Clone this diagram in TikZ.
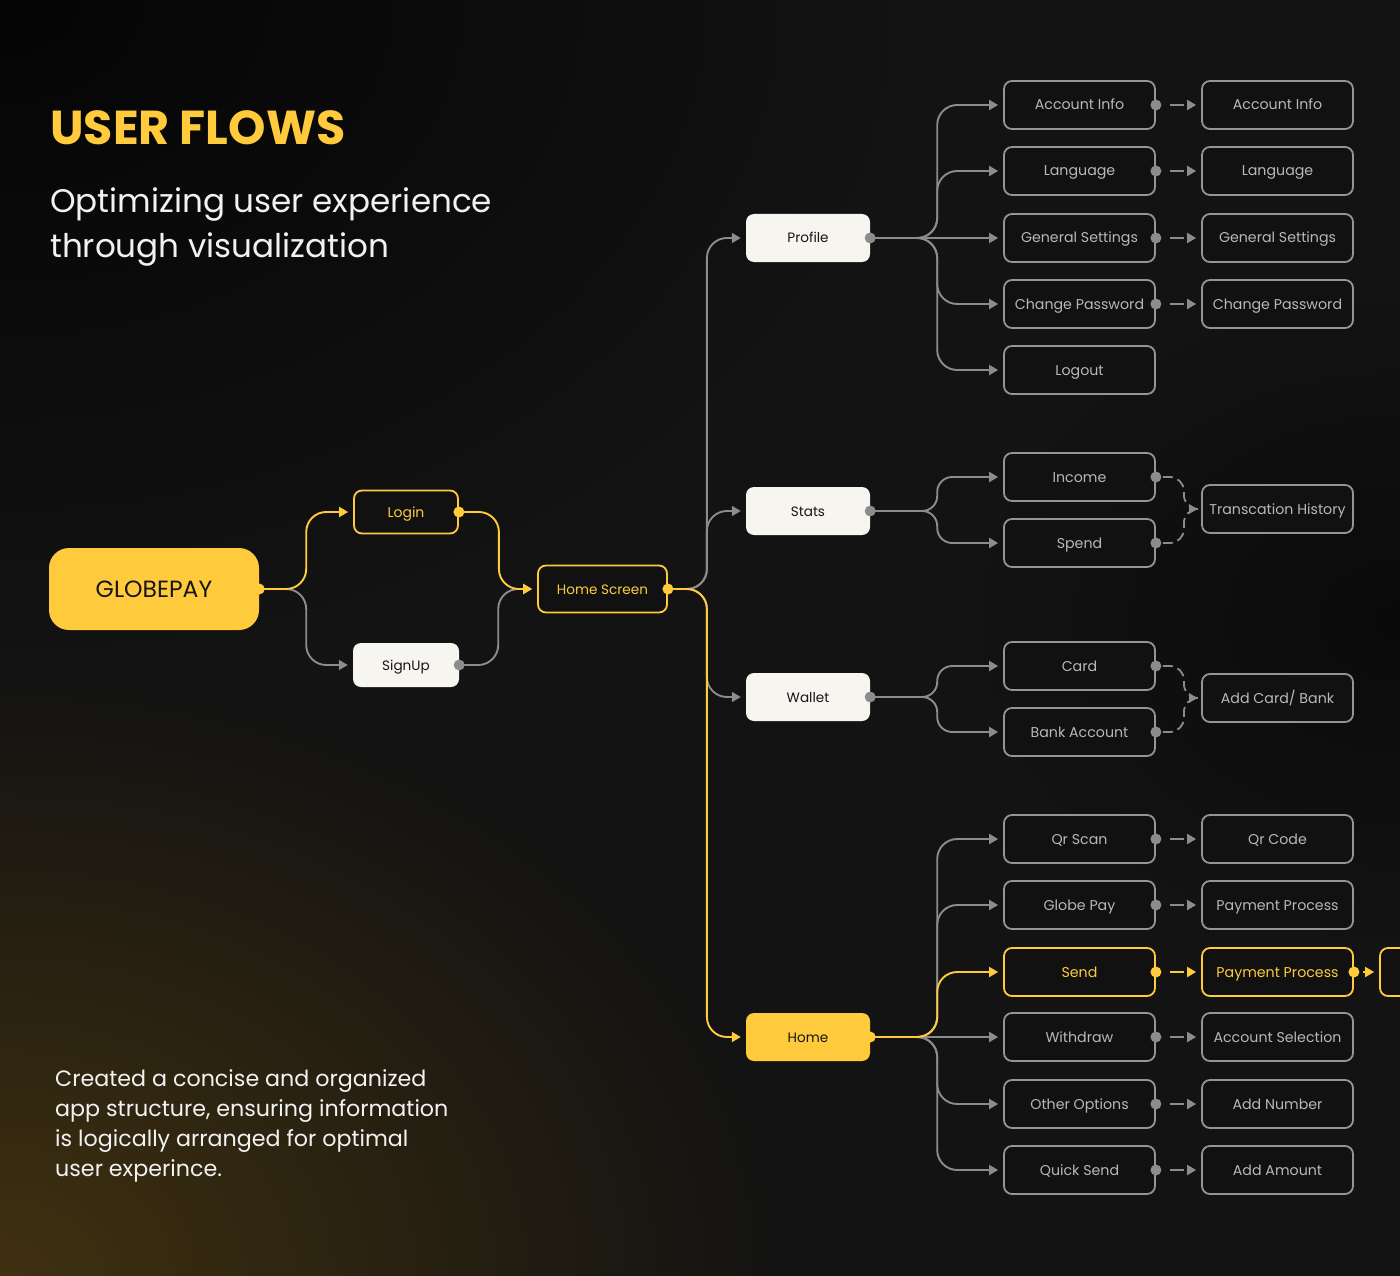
\documentclass[tikz,border=0pt]{standalone}
\usepackage{fontspec}
\setmainfont{Poppins}
\usetikzlibrary{arrows.meta,fadings}
\definecolor{bg}{HTML}{131313}
\definecolor{ylw}{HTML}{FFCB3C}
\definecolor{linegray}{HTML}{8C8C8C}
\definecolor{boxgray}{HTML}{959595}
\definecolor{boxfill}{HTML}{111111}
\definecolor{txtgray}{HTML}{B8B8B8}
\definecolor{offwhite}{HTML}{F7F5F0}
\definecolor{darktxt}{HTML}{161616}
\definecolor{glow}{HTML}{403110}
\definecolor{txtwhite}{HTML}{F2F2F2}
\tikzfading[name=glowfade, inner color=transparent!0, outer color=transparent!100]
\tikzset{
 box/.style={rectangle, rounded corners=8pt, minimum height=48pt, inner sep=0pt, text height=10pt, text depth=0pt, font=\fontsize{14.2}{16}\selectfont},
 gbox/.style={box, draw=boxgray, line width=1.8pt, fill=boxfill, text=txtgray, minimum width=151pt},
 ybox/.style={box, draw=ylw, line width=1.8pt, fill=boxfill, text=ylw},
 ygbox/.style={ybox, minimum width=151pt},
 wbox/.style={box, fill=offwhite, text=darktxt, minimum width=124pt, font=\fontsize{13.6}{16}\selectfont},
 yfbox/.style={box, fill=ylw, text=darktxt, font=\fontsize{13.6}{16}\selectfont},
 gline/.style={draw=linegray, line width=1.9pt, rounded corners=20pt, -{Triangle[length=9pt,width=10pt]}, shorten >=5pt},
 yline/.style={gline, draw=ylw},
 dline/.style={draw=linegray, line width=1.9pt, dash pattern=on 14pt off 40pt, -{Triangle[length=9pt,width=10pt]}, shorten >=5pt},
 ydline/.style={dline, draw=ylw},
 bline/.style={draw=linegray, line width=1.8pt, dash pattern=on 10pt off 5pt, rounded corners=14pt, -{Triangle[length=8pt,width=9pt]}, shorten >=4pt},
 txt/.style={anchor=base west, inner sep=0pt},
}
\begin{document}
\begin{tikzpicture}[x=1pt,y=-1pt]
\useasboundingbox (0,0) rectangle (1400,1276);
\fill[bg] (0,0) rectangle (1400,1276);
\begin{scope}
\clip (0,0) rectangle (1400,1276);
\fill[black, path fading=glowfade, fill opacity=0.75] (0,0) ellipse (900 and 650);
\fill[black, path fading=glowfade, fill opacity=0.45] (1400,620) ellipse (420 and 320);
\fill[glow, path fading=glowfade] (0,1276) ellipse (780 and 600);

% text
\node[txt, text=ylw, font=\bfseries\fontsize{47.6}{48}\selectfont] (title) at (50,145) {USER FLOWS};
\node[txt, text=txtwhite, font=\fontsize{32.6}{33}\selectfont] (sub1) at (50,213) {Optimizing user experience};
\node[txt, text=txtwhite, font=\fontsize{32.6}{33}\selectfont] (sub2) at (50,258) {through visualization};
\node[txt, text=txtwhite, font=\fontsize{22.2}{23}\selectfont] (d1) at (55,1086) {Created a concise and organized};
\node[txt, text=txtwhite, font=\fontsize{22.2}{23}\selectfont] (d2) at (55,1116) {app structure, ensuring information};
\node[txt, text=txtwhite, font=\fontsize{22.2}{23}\selectfont] (d3) at (55,1146) {is logically arranged for optimal};
\node[txt, text=txtwhite, font=\fontsize{22.2}{23}\selectfont] (d4) at (55,1176) {user experince.};

% main nodes
\node[yfbox, minimum width=210pt, minimum height=82pt, rounded corners=20pt, text height=16pt, font=\fontsize{23.5}{26}\selectfont] (gp) at (154,589) {GLOBEPAY};
\node[ybox, minimum width=104pt, minimum height=43pt, font=\fontsize{14}{16}\selectfont] (login) at (406,512) {Login};
\node[wbox, minimum width=106pt, minimum height=44pt] (signup) at (406,665) {SignUp};
\node[ybox, minimum width=129pt, minimum height=47pt, font=\fontsize{13.6}{16}\selectfont] (hs) at (602.5,589) {Home Screen};
\node[wbox] (profile) at (808,238) {Profile};
\node[wbox] (stats) at (808,511) {Stats};
\node[wbox] (wallet) at (808,697) {Wallet};
\node[yfbox, minimum width=124pt] (home) at (808,1037) {Home};

% column 2
\node[gbox] (ai) at (1079.5,105) {Account Info};
\node[gbox] (lang) at (1079.5,171) {Language};
\node[gbox] (gs) at (1079.5,238) {General Settings};
\node[gbox] (cp) at (1079.5,304) {Change Password};
\node[gbox] (lo) at (1079.5,370) {Logout};
\node[gbox] (inc) at (1079.5,477) {Income};
\node[gbox] (sp) at (1079.5,543) {Spend};
\node[gbox] (card) at (1079.5,666) {Card};
\node[gbox] (bank) at (1079.5,732) {Bank Account};
\node[gbox] (qr) at (1079.5,839) {Qr Scan};
\node[gbox] (gpay) at (1079.5,905) {Globe Pay};
\node[ygbox] (send) at (1079.5,972) {Send};
\node[gbox] (wd) at (1079.5,1037) {Withdraw};
\node[gbox] (oo) at (1079.5,1104) {Other Options};
\node[gbox] (qs) at (1079.5,1170) {Quick Send};

% column 3
\node[gbox] (ai2) at (1277.5,105) {Account Info};
\node[gbox] (lang2) at (1277.5,171) {Language};
\node[gbox] (gs2) at (1277.5,238) {General Settings};
\node[gbox] (cp2) at (1277.5,304) {Change Password};
\node[gbox] (th) at (1277.5,509) {Transcation History};
\node[gbox] (acb) at (1277.5,698) {Add Card/ Bank};
\node[gbox] (qrc) at (1277.5,839) {Qr Code};
\node[gbox] (pp1) at (1277.5,905) {Payment Process};
\node[ygbox] (pp2) at (1277.5,972) {Payment Process};
\node[gbox] (as) at (1277.5,1037) {Account Selection};
\node[gbox] (an) at (1277.5,1104) {Add Number};
\node[gbox] (aa) at (1277.5,1170) {Add Amount};
\node[ygbox] (pnext) at (1455.5,972) {};

% connectors: start
\draw[gline] (gp.east) -- ++(47,0) |- (signup.west);
\draw[yline] (gp.east) -- ++(47,0) |- (login.west);
\draw[gline] (signup.east) -- ++(39,0) |- (hs.west);
\draw[yline] (login.east) -- ++(40,0) |- (hs.west);
\draw[gline] (hs.east) -- ++(39,0) |- (profile.west);
\draw[gline] (hs.east) -- ++(39,0) |- (stats.west);
\draw[gline] (hs.east) -- ++(39,0) |- (wallet.west);
\draw[yline] (hs.east) -- ++(39,0) |- (home.west);

% profile
\draw[gline] (profile.east) -- ++(67,0) |- (ai.west);
\draw[gline] (profile.east) -- ++(67,0) |- (lang.west);
\draw[gline] (profile.east) -- (gs.west);
\draw[gline] (profile.east) -- ++(67,0) |- (cp.west);
\draw[gline] (profile.east) -- ++(67,0) |- (lo.west);

% stats / wallet
\draw[gline, rounded corners=15pt] (stats.east) -- ++(67,0) |- (inc.west);
\draw[gline, rounded corners=15pt] (stats.east) -- ++(67,0) |- (sp.west);
\draw[gline, rounded corners=15pt] (wallet.east) -- ++(67,0) |- (card.west);
\draw[gline, rounded corners=15pt] (wallet.east) -- ++(67,0) |- (bank.west);

% home
\draw[gline] (home.east) -- ++(67,0) |- (qr.west);
\draw[gline] (home.east) -- ++(67,0) |- (gpay.west);
\draw[gline] (home.east) -- (wd.west);
\draw[gline] (home.east) -- ++(67,0) |- (oo.west);
\draw[gline] (home.east) -- ++(67,0) |- (qs.west);
\draw[yline] (home.east) -- ++(67,0) |- (send.west);

% col2 -> col3
\foreach \a/\b in {ai/ai2, lang/lang2, gs/gs2, cp/cp2, qr/qrc, gpay/pp1, wd/as, oo/an, qs/aa}{
  \draw[dline] ([xshift=14pt]\a.east) -- (\b.west);
}
\draw[ydline] ([xshift=14pt]send.east) -- (pp2.west);
\draw[yline, shorten >=5pt] ([xshift=9pt]pp2.east) -- (pnext.west);

\draw[bline] ([xshift=7pt]inc.east) -- ++(21,0) |- (th.west);
\draw[bline] ([xshift=7pt]sp.east) -- ++(21,0) |- (th.west);
\draw[bline] ([xshift=7pt]card.east) -- ++(21,0) |- (acb.west);
\draw[bline] ([xshift=7pt]bank.east) -- ++(21,0) |- (acb.west);

% dots
\foreach \n in {signup, profile, stats, wallet, ai, lang, gs, cp, inc, sp, card, bank, qr, gpay, wd, oo, qs}{
  \fill[linegray] (\n.east) circle (5.5pt);
}
\foreach \n in {gp, login, hs, home, send, pp2}{
  \fill[ylw] (\n.east) circle (5.5pt);
}
\end{scope}
\end{tikzpicture}
\end{document}
